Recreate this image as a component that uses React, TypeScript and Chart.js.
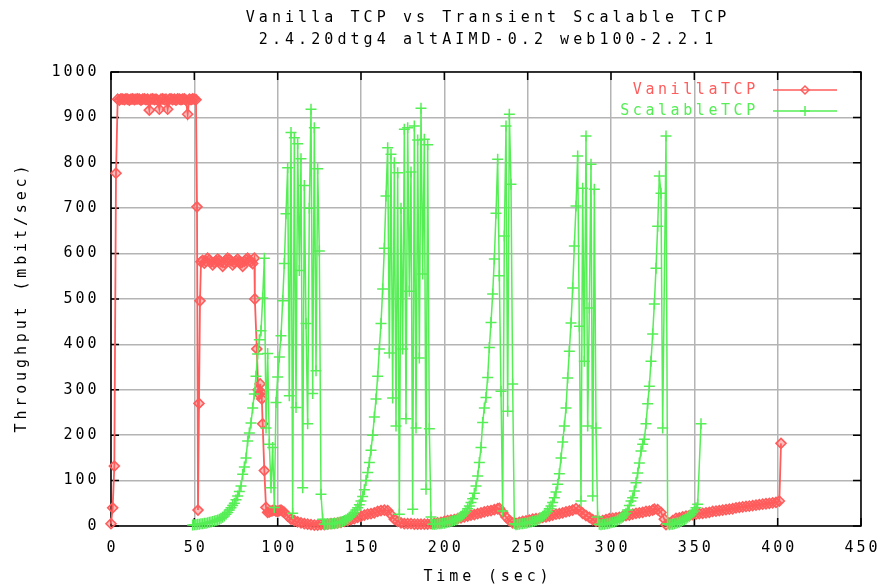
import { useEffect, useRef } from "react";
import { Chart, registerables } from "chart.js";

Chart.register(...registerables);

// Chart text
const titleLines = [
  "Vanilla TCP vs Transient Scalable TCP",
  "2.4.20dtg4 altAIMD-0.2 web100-2.2.1",
];
const xAxisTitle = "Time (sec)";
const yAxisTitle = "Throughput (mbit/sec)";
const seriesNames = ["VanillaTCP", "ScalableTCP"];

// Axis ranges
const xRange = { min: 0, max: 450, step: 50 };
const yRange = { min: 0, max: 1000, step: 100 };

// [time (sec), throughput (mbit/sec)]
const vanillaSamples: [number, number][] = [
  [0, 5], [1, 40], [2, 132], [3, 777],
  [4, 940], [5, 938], [6, 941], [7, 940], [8, 939], [9, 941], [10, 940], [11, 938],
  [12, 940], [13, 941], [14, 939], [15, 940], [16, 941], [17, 940], [18, 938], [19, 940],
  [20, 941], [21, 939], [22, 940], [23, 916], [24, 940], [25, 941], [26, 939], [27, 940],
  [28, 938], [29, 918], [30, 940], [31, 941], [32, 939], [33, 940], [34, 918], [35, 940],
  [36, 941], [37, 939], [38, 940], [39, 938], [40, 941], [41, 940], [42, 939], [43, 940],
  [44, 941], [45, 938], [46, 907], [47, 940], [48, 939], [49, 941], [50, 940], [51, 939],
  [51.6, 703], [52.2, 35], [52.8, 270], [53.4, 496],
  [54, 582], [55, 585], [56, 579], [57, 583], [58, 590], [59, 586], [60, 582], [61, 575],
  [62, 580], [63, 584], [64, 588], [65, 585], [66, 582], [67, 572], [68, 580], [69, 586],
  [70, 590], [71, 587], [72, 584], [73, 575], [74, 580], [75, 584], [76, 588], [77, 583],
  [78, 580], [79, 572], [80, 583], [81, 587], [82, 590], [83, 585], [84, 582], [85, 578],
  [86, 590], [86.3, 500], [87.5, 390], [88.3, 300], [89, 290], [89.5, 313], [90, 295],
  [90.5, 280], [91, 225], [92, 122], [93, 41],
  [94, 30], [95, 31], [96, 33], [97, 34], [98, 35], [99, 33], [100, 32], [101, 34],
  [102, 35], [103, 32], [104, 30], [106, 22], [108, 15], [110, 12], [112, 9], [114, 7],
  [116, 5], [118, 4], [120, 3], [122, 2], [124, 2], [126, 3], [128, 3], [130, 4],
  [132, 5], [134, 6], [136, 7], [138, 8], [140, 10], [142, 12], [144, 14], [146, 16],
  [148, 19], [150, 21], [152, 24], [154, 26], [156, 27], [158, 29], [160, 32], [162, 34],
  [164, 35], [166, 34], [168, 25], [170, 15], [172, 10], [174, 7], [176, 5], [178, 5],
  [180, 5], [182, 4], [184, 4], [186, 4], [188, 4], [190, 4], [192, 5], [194, 6],
  [196, 7], [198, 8], [200, 10], [202, 12], [204, 13], [206, 14], [208, 16], [210, 18],
  [212, 20], [214, 22], [216, 24], [218, 25], [220, 27], [222, 29], [224, 31], [226, 33],
  [228, 34], [230, 36], [232, 38], [233, 39], [235, 30], [237, 20], [239, 12], [241, 7],
  [243, 6], [245, 8], [247, 10], [249, 11], [251, 13], [253, 15], [255, 16], [257, 17],
  [259, 19], [261, 20], [263, 22], [265, 24], [267, 26], [269, 27], [271, 29], [273, 31],
  [275, 33], [277, 35], [279, 38], [281, 35], [283, 28], [285, 23], [287, 19], [289, 14],
  [291, 11], [293, 10], [295, 12], [297, 14], [299, 16], [301, 17], [303, 18], [305, 19],
  [307, 21], [309, 23], [311, 24], [313, 26], [315, 28], [317, 29], [319, 30], [321, 32],
  [323, 33], [325, 35], [326, 37], [328, 36], [330, 30], [332, 15], [333, 3], [335, 6],
  [337, 12], [339, 17], [341, 18], [343, 20], [345, 22], [347, 23], [349, 25], [351, 26],
  [353, 27], [355, 28], [357, 29], [359, 30], [361, 32], [363, 33], [365, 34], [367, 35],
  [369, 36], [371, 37], [373, 38], [375, 40], [377, 41], [379, 42], [381, 43], [383, 44],
  [385, 45], [387, 46], [389, 47], [391, 48], [393, 49], [395, 50], [397, 51], [399, 52],
  [401, 55], [402, 182],
];

// [time (sec), throughput (mbit/sec)]
const scalableSamples: [number, number][] = [
  // first ramp and oscillation
  [49, 2], [50, 3], [51, 3], [52, 4], [53, 4], [54, 5], [55, 5], [56, 6], [57, 6], [58, 7],
  [59, 8], [60, 9], [61, 10], [62, 11], [63, 12], [64, 13], [65, 15], [66, 17], [67, 19],
  [68, 22], [69, 26], [70, 30], [71, 35], [72, 40], [73, 45], [74, 50], [75, 58], [76, 66],
  [77, 76], [78, 88], [79, 114], [80, 130], [81, 150], [82, 187], [83, 205], [84, 227],
  [85, 260], [86, 291], [87, 330], [88, 379], [89, 410], [90, 430], [91, 502], [92, 590],
  [93, 216], [94, 380], [95, 180], [96, 84], [97, 173], [98, 41], [99, 272], [100, 328],
  [101, 372], [102, 419], [103, 496], [104, 578], [105, 688], [106, 789], [107, 287],
  [108, 867], [109, 28], [110, 855], [111, 261], [112, 842], [113, 563], [114, 809],
  [115, 84], [116, 750], [117, 446], [118, 225], [119, 700], [120, 918], [121, 292],
  [122, 877], [123, 342], [124, 787], [125, 606], [126, 70], [127, 15],
  // second
  [128, 4], [129, 4], [130, 4], [131, 5], [132, 5], [133, 5], [134, 6], [135, 6],
  [136, 7], [137, 8], [138, 9], [139, 10], [140, 12], [141, 14], [142, 16], [143, 19],
  [144, 22], [145, 26], [146, 30], [147, 35], [148, 40], [149, 47], [150, 55], [151, 65],
  [152, 80], [153, 100], [154, 118], [155, 140], [156, 167], [157, 200], [158, 240],
  [159, 280], [160, 330], [161, 390], [162, 446], [163, 522], [164, 612], [165, 727],
  [166, 833], [167, 381], [168, 819], [169, 282], [170, 800], [171, 220], [172, 778],
  [173, 26], [174, 700], [175, 390], [176, 874], [177, 236], [178, 877], [179, 517],
  [180, 780], [181, 37], [182, 881], [183, 216], [184, 850], [185, 370], [186, 920],
  [187, 555], [188, 852], [189, 81], [190, 840], [191, 214], [192, 20],
  // third
  [193, 4], [194, 4], [195, 4], [196, 5], [197, 5], [198, 5], [199, 6], [200, 6],
  [201, 7], [202, 8], [203, 9], [204, 10], [205, 11], [206, 12], [207, 14], [208, 16],
  [209, 18], [210, 21], [211, 24], [212, 28], [213, 32], [214, 38], [215, 44], [216, 52],
  [217, 60], [218, 72], [219, 88], [220, 110], [221, 140], [222, 173], [223, 228],
  [224, 260], [225, 283], [226, 327], [227, 393], [228, 448], [229, 511], [230, 588],
  [231, 689], [232, 808], [233, 551], [234, 297], [235, 33], [236, 639], [237, 881],
  [238, 253], [239, 907], [240, 753], [241, 313], [242, 5],
  // fourth
  [243, 3], [244, 4], [245, 4], [246, 5], [247, 5], [248, 6], [249, 6], [250, 7],
  [251, 8], [252, 9], [253, 10], [254, 11], [255, 12], [256, 14], [257, 16], [258, 18],
  [259, 21], [260, 24], [261, 28], [262, 32], [263, 38], [264, 44], [265, 52], [266, 62],
  [267, 75], [268, 92], [269, 115], [270, 150], [271, 185], [272, 220], [273, 260],
  [274, 326], [275, 385], [276, 447], [277, 524], [278, 617], [279, 705], [280, 815],
  [281, 440], [282, 55], [283, 744], [284, 363], [285, 859], [286, 220], [287, 480],
  [288, 797], [289, 66], [290, 742], [291, 216], [292, 20], [293, 4],
  // fifth
  [294, 3], [295, 4], [296, 4], [297, 5], [298, 5], [299, 6], [300, 7], [301, 8],
  [302, 9], [303, 11], [304, 13], [305, 15], [306, 17], [307, 20], [308, 24], [309, 28],
  [310, 35], [311, 45], [312, 55], [313, 62], [314, 77], [315, 95], [316, 117], [317, 139],
  [318, 165], [319, 180], [320, 191], [321, 225], [322, 269], [323, 308], [324, 363],
  [325, 423], [326, 489], [327, 568], [328, 660], [329, 771], [330, 733], [331, 216],
  [333, 859], [334, 5],
  // tail
  [335, 3], [336, 4], [337, 4], [338, 5], [339, 6], [340, 7], [341, 8], [342, 10],
  [343, 12], [344, 14], [345, 16], [346, 19], [347, 22], [348, 25], [349, 29], [350, 33],
  [351, 40], [352, 48], [354, 225],
];

const RED = "#ff5c5c";
const RED_FILL = "rgba(255, 92, 92, 0.4)";
const GREEN = "#55ee55";
const GRID = "#b4b4b4";
const FONT = '15px "DejaVu Sans Mono", monospace';

// Fixed-pitch text: every glyph is centred in a cell of width `adv`.
function monoText(
  ctx: CanvasRenderingContext2D,
  text: string,
  x: number,
  y: number,
  adv: number,
  align: "left" | "center" | "right"
) {
  const w = text.length * adv;
  const start = align === "center" ? x - w / 2 : align === "right" ? x - w : x;
  ctx.textAlign = "center";
  ctx.textBaseline = "middle";
  for (let i = 0; i < text.length; i++) {
    ctx.fillText(text[i], start + adv * (i + 0.5), y);
  }
}

const framePlugin = {
  id: "gnuplotFrame",
  beforeDatasetsDraw(chart: any) {
    const { ctx, chartArea: a, scales } = chart;
    const x = scales.x;
    const y = scales.y;
    ctx.save();
    ctx.strokeStyle = "#000";
    ctx.lineWidth = 1.5;
    ctx.strokeRect(a.left, a.top, a.right - a.left, a.bottom - a.top);
    const len = 8;
    ctx.beginPath();
    x.ticks.forEach((t: any) => {
      const px = x.getPixelForValue(t.value);
      ctx.moveTo(px, a.bottom);
      ctx.lineTo(px, a.bottom - len);
      ctx.moveTo(px, a.top);
      ctx.lineTo(px, a.top + len);
    });
    y.ticks.forEach((t: any) => {
      const py = y.getPixelForValue(t.value);
      ctx.moveTo(a.left, py);
      ctx.lineTo(a.left + len, py);
      ctx.moveTo(a.right, py);
      ctx.lineTo(a.right - len, py);
    });
    ctx.stroke();
    ctx.restore();
  },
  afterDraw(chart: any) {
    const { ctx, chartArea: a, scales } = chart;
    const x = scales.x;
    const y = scales.y;
    ctx.save();
    ctx.font = FONT;
    ctx.fillStyle = "#000";

    x.ticks.forEach((t: any) => {
      monoText(ctx, String(t.value), x.getPixelForValue(t.value), a.bottom + 22, 12, "center");
    });
    y.ticks.forEach((t: any) => {
      monoText(ctx, String(t.value), a.left - 13, y.getPixelForValue(t.value), 12, "right");
    });

    const cx = (a.left + a.right) / 2;
    monoText(ctx, titleLines[0], cx, 18, 13.1, "center");
    monoText(ctx, titleLines[1], cx, 40, 13.1, "center");
    monoText(ctx, xAxisTitle, cx, 577, 12.9, "center");

    ctx.save();
    ctx.translate(22, (a.top + a.bottom) / 2);
    ctx.rotate(-Math.PI / 2);
    monoText(ctx, yAxisTitle, 0, 0, 12.9, "center");
    ctx.restore();

    // key in the upper right corner
    const colors = [RED, GREEN];
    const rows = [90, 111];
    const textRight = a.right - 104;
    const lineL = a.right - 88;
    const lineR = a.right - 24;
    const mid = (lineL + lineR) / 2;
    seriesNames.forEach((name, i) => {
      const ry = rows[i];
      ctx.fillStyle = colors[i];
      monoText(ctx, name, textRight, ry, 12.6, "right");
      ctx.strokeStyle = colors[i];
      ctx.lineWidth = 1.5;
      ctx.beginPath();
      ctx.moveTo(lineL, ry);
      ctx.lineTo(lineR, ry);
      ctx.stroke();
      ctx.beginPath();
      if (i === 0) {
        ctx.moveTo(mid, ry - 4);
        ctx.lineTo(mid + 4, ry);
        ctx.lineTo(mid, ry + 4);
        ctx.lineTo(mid - 4, ry);
        ctx.closePath();
      } else {
        ctx.moveTo(mid, ry - 5);
        ctx.lineTo(mid, ry + 5);
        ctx.moveTo(mid - 5, ry);
        ctx.lineTo(mid + 5, ry);
      }
      ctx.stroke();
    });
    ctx.restore();
  },
};

export default function App() {
  const canvasRef = useRef<HTMLCanvasElement | null>(null);

  useEffect(() => {
    const canvas = canvasRef.current;
    if (!canvas) return;
    const chart = new Chart(canvas, {
      type: "line",
      data: {
        datasets: [
          {
            label: seriesNames[0],
            data: vanillaSamples.map(([t, v]) => ({ x: t, y: v })),
            borderColor: RED,
            backgroundColor: "rgba(0,0,0,0)",
            borderWidth: 1.8,
            pointStyle: "rectRot",
            pointRadius: 5,
            pointBorderWidth: 1.6,
            pointBorderColor: RED,
            pointBackgroundColor: RED_FILL,
            tension: 0,
            clip: 8,
            order: 2,
          },
          {
            label: seriesNames[1],
            data: scalableSamples.map(([t, v]) => ({ x: t, y: v })),
            borderColor: GREEN,
            backgroundColor: "rgba(0,0,0,0)",
            borderWidth: 1.5,
            pointStyle: "cross",
            pointRadius: 5.5,
            pointBorderWidth: 1.5,
            pointBorderColor: GREEN,
            tension: 0,
            clip: 8,
            order: 1,
          },
        ],
      },
      options: {
        animation: false,
        responsive: false,
        events: [],
        layout: { padding: { left: 111, right: 23, top: 72, bottom: 59 } },
        plugins: {
          legend: { display: false },
          title: { display: false },
          tooltip: { enabled: false },
        },
        scales: {
          x: {
            type: "linear",
            min: xRange.min,
            max: xRange.max,
            ticks: { display: false, stepSize: xRange.step },
            grid: { color: GRID, lineWidth: 1.5, drawTicks: false },
            border: { display: false },
          },
          y: {
            type: "linear",
            min: yRange.min,
            max: yRange.max,
            ticks: { display: false, stepSize: yRange.step },
            grid: { color: GRID, lineWidth: 1.5, drawTicks: false },
            border: { display: false },
          },
        },
      },
      plugins: [framePlugin],
    });
    return () => chart.destroy();
  }, []);

  return (
    <div style={{ position: "absolute", left: 0, top: 0, width: 884, height: 585, background: "#fff" }}>
      <canvas ref={canvasRef} width={884} height={585} style={{ display: "block" }} />
    </div>
  );
}
